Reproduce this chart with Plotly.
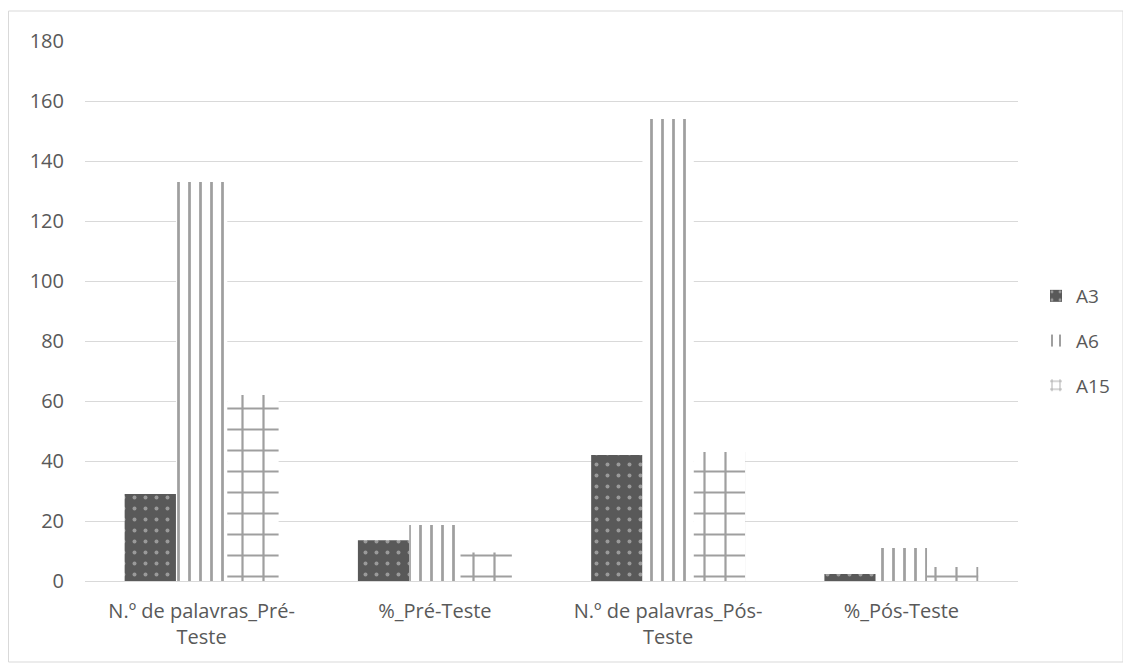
import plotly.graph_objects as go

categories = ["N.º de palavras_Pré-<br>Teste", "%_Pré-Teste", "N.º de palavras_Pós-<br>Teste", "%_Pós-Teste"]
series_names = ["A3", "A6", "A15"]
a3 = [29, 13.6, 42, 2.3]
a6 = [133, 18.7, 154, 11]
a15 = [62, 9.5, 43, 4.7]
tick_vals = [0, 20, 40, 60, 80, 100, 120, 140, 160, 180]

# page body has an 8px margin; figure coordinates = screen - 8
OFF = 8
W, H = 1131 - OFF, 664 - OFF
L, R, T, B = 85 - OFF, 1018 - OFF, 41 - OFF, 581 - OFF

fig = go.Figure()
fig.add_trace(go.Bar(
    name=series_names[0], x=categories, y=a3, legendgroup="g1",
    marker=dict(color="#595959", line=dict(width=0),
                pattern=dict(shape=".", fgcolor="#dcdcdc", bgcolor="#595959", size=11, solidity=0.1)),
))
fig.add_trace(go.Bar(
    name=series_names[1], x=categories, y=a6, legendgroup="g2",
    marker=dict(color="white", line=dict(width=0),
                pattern=dict(shape="|", fgcolor="#404040", bgcolor="white", size=11, solidity=0.25)),
))
fig.add_trace(go.Bar(
    name=series_names[2], x=categories, y=a15, legendgroup="g3",
    marker=dict(color="white", line=dict(width=0),
                pattern=dict(shape="+", fgcolor="#404040", bgcolor="white", size=21, solidity=0.2)),
))

def px_x(p):
    return (p - OFF - L) / (R - L)

def px_y(p):
    return (B - (p - OFF)) / (B - T)

fig.add_shape(type="rect", xref="paper", yref="paper",
              x0=px_x(8.5), x1=px_x(1123), y0=px_y(662), y1=px_y(11),
              line=dict(color="#d9d9d9", width=1), fillcolor="rgba(0,0,0,0)", layer="below")

fig.update_layout(
    width=W, height=H,
    margin=dict(l=L, r=W - R, t=T, b=H - B, pad=0),
    paper_bgcolor="white", plot_bgcolor="white",
    barmode="group", bargap=0.34, bargroupgap=0.0,
    font=dict(family="Open Sans, Liberation Sans, sans-serif", size=20, color="#595959"),
    showlegend=True,
    legend=dict(x=px_x(1036), y=px_y(277), xanchor="left", yanchor="top",
                font=dict(size=19, color="#595959"), tracegroupgap=17,
                itemwidth=30, bgcolor="rgba(0,0,0,0)"),
    yaxis=dict(range=[0, 180], tickvals=tick_vals, showgrid=True, gridcolor="#d9d9d9",
               gridwidth=1, zeroline=False, showline=False, ticks="", ticklen=0,
               tickfont=dict(size=20, color="#595959"), ticklabelstandoff=20),
    xaxis=dict(showgrid=False, showline=True, linecolor="#d9d9d9", linewidth=1, ticks="",
               tickfont=dict(size=20, color="#595959"), ticklabelstandoff=12),
)

fig.write_html("out.html")
